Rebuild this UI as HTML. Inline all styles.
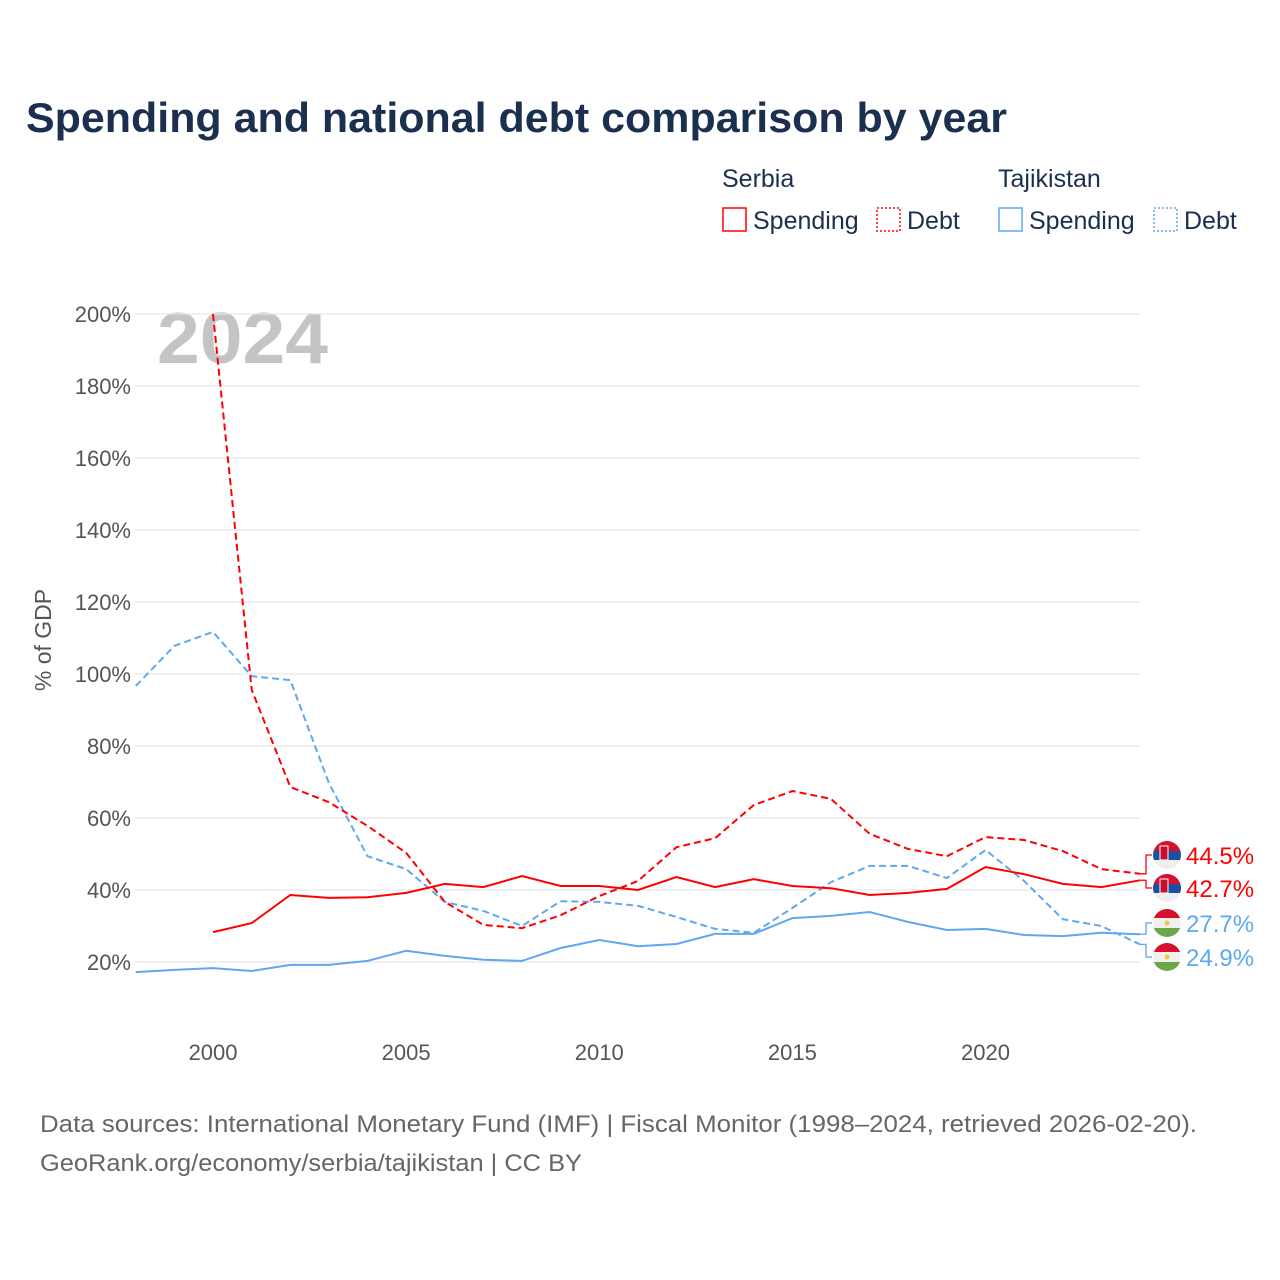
<!DOCTYPE html>
<html><head><meta charset="utf-8"><style>
body{margin:0;background:#fff;}
svg{display:block;font-family:"Liberation Sans",sans-serif;}
</style></head><body>
<svg id="c" width="1280" height="1280">
<text x="26" y="132" font-size="42" font-weight="bold" fill="#1b2f4e" textLength="981" lengthAdjust="spacingAndGlyphs">Spending and national debt comparison by year</text>
<g font-size="25" fill="#1b2f4e">
<text x="722" y="187">Serbia</text>
<text x="998" y="187">Tajikistan</text>
<g><rect x="723" y="208" width="23" height="23" fill="none" stroke="#f00" stroke-width="1.5"/><text x="753" y="229">Spending</text></g>
<g><rect x="877" y="208" width="23" height="23" fill="none" stroke="#f00" stroke-width="1.5" stroke-dasharray="2,2"/><text x="907" y="229">Debt</text></g>
<g><rect x="999" y="208" width="23" height="23" fill="none" stroke="#5fa8ef" stroke-width="1.5"/><text x="1029" y="229">Spending</text></g>
<g><rect x="1154" y="208" width="23" height="23" fill="none" stroke="#5fa8ef" stroke-width="1.5" stroke-dasharray="2,2"/><text x="1184" y="229">Debt</text></g>
</g>
<text x="157" y="363" font-size="72" font-weight="bold" fill="#c4c4c4" textLength="171" lengthAdjust="spacingAndGlyphs">2024</text>
<g id="grid"></g><g id="axes"></g><g id="series"></g><g id="labels"></g>
<text transform="translate(51,640) rotate(-90)" text-anchor="middle" font-size="23" fill="#555">% of GDP</text>
<text x="40" y="1132" font-size="24" fill="#666" textLength="1157" lengthAdjust="spacingAndGlyphs">Data sources: International Monetary Fund (IMF) | Fiscal Monitor (1998–2024, retrieved 2026-02-20).</text>
<text x="40" y="1171" font-size="24" fill="#666" textLength="542" lengthAdjust="spacingAndGlyphs">GeoRank.org/economy/serbia/tajikistan | CC BY</text>
</svg>
<script>
const yTicks=[20,40,60,80,100,120,140,160,180,200];
const xTicks=[2000,2005,2010,2015,2020];
const years=[1998,1999,2000,2001,2002,2003,2004,2005,2006,2007,2008,2009,2010,2011,2012,2013,2014,2015,2016,2017,2018,2019,2020,2021,2022,2023,2024];
const serbiaSpending=[null,null,28.3,30.8,38.6,37.8,38,39.2,41.7,40.8,43.9,41.1,41.1,40,43.6,40.8,43,41.1,40.5,38.6,39.2,40.3,46.4,44.4,41.7,40.8,42.7];
const serbiaDebt=[null,null,200,95.6,68.6,64.4,57.8,50.3,36.7,30.3,29.4,33,38.3,42.5,51.9,54.4,63.6,67.5,65.3,55.6,51.4,49.4,54.7,53.9,50.8,45.8,44.5];
const tajSpending=[17.2,17.8,18.3,17.5,19.2,19.2,20.3,23.1,21.7,20.6,20.3,23.9,26.1,24.4,25,27.8,27.8,32.2,32.8,33.9,31.1,28.9,29.2,27.5,27.2,28.1,27.7];
const tajDebt=[96.7,107.8,111.7,99.4,98.3,69.7,49.4,45.8,36.7,34.2,30,36.9,36.7,35.6,32.5,29.2,28.1,35,42.2,46.7,46.7,43.3,51.1,42.5,31.9,30,24.9];
const X=y=>135.8+(y-1998)*(1140-135.8)/26;
const Y=v=>962-(v-20)*3.6;
const NS="http://www.w3.org/2000/svg";
function mk(t,a,p){const e=document.createElementNS(NS,t);for(const k in a)e.setAttribute(k,a[k]);p.appendChild(e);return e;}
const grid=document.getElementById('grid'),axes=document.getElementById('axes'),series=document.getElementById('series'),labels=document.getElementById('labels');
yTicks.forEach(v=>{
 const l=mk('line',{x1:135,x2:1141,y1:Y(v),y2:Y(v),stroke:'#e6e6e6','stroke-width':1.3},grid);
 
 
 const t=mk('text',{x:131,y:Y(v)+8,'text-anchor':'end','font-size':22,fill:'#555'},axes);
 t.textContent=v+'%';
 
 
});
xTicks.forEach(v=>{
 const t=mk('text',{x:X(v),y:1060,'text-anchor':'middle','font-size':22,fill:'#555'},axes);
 t.textContent=v;
 
 
});
function line(arr,color,dash,name){
 let d='';let first=true;
 arr.forEach((v,i)=>{if(v==null)return;d+=(first?'M':'L')+X(years[i]).toFixed(1)+','+Y(v).toFixed(1);first=false;});
 const p=mk('path',{d:d,fill:'none',stroke:color,'stroke-width':2,'stroke-dasharray':dash||'none'},series);
 
 
}
line(tajSpending,'#5fa8ef',null,'tajikistan-spending-line');
line(tajDebt,'#5fa8ef','7,4','tajikistan-debt-line');
line(serbiaSpending,'#f00',null,'serbia-spending-line');
line(serbiaDebt,'#f00','7,4','serbia-debt-line');
const ends=[
 {v:serbiaDebt[26],ly:855,c:'#f00',f:'rs',n:'serbia-debt'},
 {v:serbiaSpending[26],ly:888,c:'#f00',f:'rs',n:'serbia-spending'},
 {v:tajSpending[26],ly:923,c:'#5fa8ef',f:'tj',n:'tajikistan-spending'},
 {v:tajDebt[26],ly:957,c:'#5fa8ef',f:'tj',n:'tajikistan-debt'}];
ends.forEach(e=>{
 const g=mk('g',{},labels);
 
 
 const y0=Y(e.v);
 mk('path',{d:`M1140,${y0}L1146,${y0}L1146,${e.ly}L1152,${e.ly}`,fill:'none',stroke:e.c,'stroke-width':1.3},g);
 const cx=1167,cy=e.ly,r=14;
 const cid='cl'+e.n;
 const cp=mk('clipPath',{id:cid},g);mk('circle',{cx:cx,cy:cy,r:r},cp);
 const fg=mk('g',{'clip-path':`url(#${cid})`},g);
 if(e.f==='rs'){
  mk('rect',{x:cx-r,y:cy-r,width:28,height:10,fill:'#d6102f'},fg);
  mk('rect',{x:cx-r,y:cy-4,width:28,height:9,fill:'#1d4fa0'},fg);
  mk('rect',{x:cx-r,y:cy+5,width:28,height:10,fill:'#eee'},fg);
  mk('rect',{x:cx-7,y:cy-9,width:8,height:14,fill:'#c8102e',stroke:'#fff','stroke-width':1},fg);
 }else{
  mk('rect',{x:cx-r,y:cy-r,width:28,height:9,fill:'#d6102f'},fg);
  mk('rect',{x:cx-r,y:cy-5,width:28,height:10,fill:'#f0f0f0'},fg);
  mk('rect',{x:cx-r,y:cy+5,width:28,height:10,fill:'#6ea548'},fg);
  mk('circle',{cx:cx,cy:cy,r:2.5,fill:'#f3c43c'},fg);
 }
 const t=mk('text',{x:1186,y:e.ly+9,'font-size':24,fill:e.c},g);
 t.textContent=e.v.toFixed(1)+'%';
});
</script>
</body></html>
